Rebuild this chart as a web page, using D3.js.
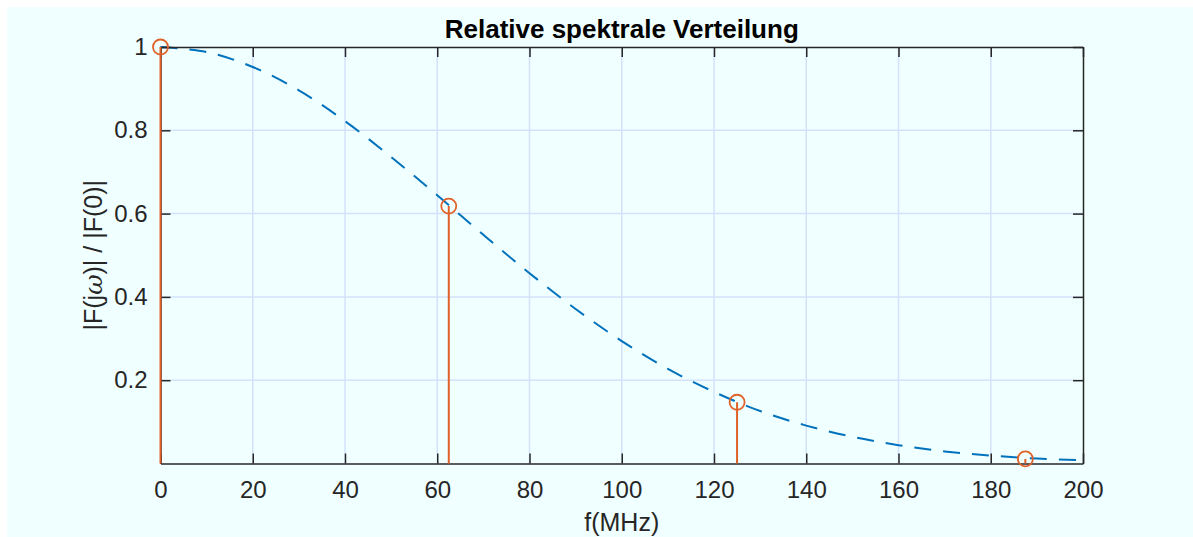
<!DOCTYPE html>
<html>
<head>
<meta charset="utf-8">
<script src="https://cdn.jsdelivr.net/npm/d3@7"></script>
<style>
  html, body { margin: 0; padding: 0; background: #ffffff; }
  svg { display: block; }
</style>
</head>
<body>
<svg id="chart" width="1193" height="537"></svg>
<script>
// ---- data ----
const curveFreq = [0, 10, 20, 30, 40, 50, 60, 70, 80, 90, 100, 110, 120, 130, 140, 150, 160, 170, 180, 190, 200];
const curveValue = [1.0, 0.988, 0.952, 0.896, 0.822, 0.736, 0.644, 0.549, 0.457, 0.371, 0.294, 0.227, 0.172, 0.126, 0.091, 0.064, 0.044, 0.029, 0.019, 0.012, 0.008];
const stemFreq = [0, 62.5, 125, 187.5];
const stemValue = [1.0, 0.618, 0.147, 0.011];
const xTicks = [0, 20, 40, 60, 80, 100, 120, 140, 160, 180, 200];
const yTicks = [0.2, 0.4, 0.6, 0.8, 1];
const titleText = "Relative spektrale Verteilung";
const xLabelText = "f(MHz)";

// ---- layout ----
const W = 1193, H = 537;
const plot = { left: 160.5, right: 1083, top: 47, bottom: 463.5 };
const axisColor = "#262626";
const gridColor = "#d3e2fa";
const stemColor = "#DF6128";
const font = "'Liberation Sans', Arial, Helvetica, sans-serif";
const tickFont = "24px";
const labelFont = "25px";

const svg = d3.select("#chart");

// figure background
svg.append("rect").attr("x", 7).attr("y", 7).attr("width", W - 7).attr("height", H - 7).attr("fill", "#F0FFFF");

const x = d3.scaleLinear().domain([0, 200]).range([plot.left, plot.right]);
const y = d3.scaleLinear().domain([0, 1]).range([plot.bottom, plot.top]);

// grid
const grid = svg.append("g");
grid.selectAll("line.gx").data(xTicks.filter(d => d > 0 && d < 200)).join("line")
  .attr("x1", d => x(d)).attr("x2", d => x(d)).attr("y1", plot.top).attr("y2", plot.bottom)
  .attr("stroke", gridColor).attr("stroke-width", 1.5);
grid.selectAll("line.gy").data(yTicks.filter(d => d < 1)).join("line")
  .attr("x1", plot.left).attr("x2", plot.right).attr("y1", d => y(d)).attr("y2", d => y(d))
  .attr("stroke", gridColor).attr("stroke-width", 1.5);

// dashed curve
const pts = curveFreq.map((f, i) => [f, curveValue[i]]);
svg.append("path").datum(pts)
  .attr("d", d3.line().x(d => x(d[0])).y(d => y(d[1])).curve(d3.curveCatmullRom))
  .attr("fill", "none").attr("stroke", "#0072BD").attr("stroke-width", 2)
  .attr("stroke-dasharray", "17,12");

// axes (box with inward ticks)
const tickLen = 10;
const fmt = d => d3.format("")(d);
const axB = svg.append("g").attr("transform", `translate(0,${plot.bottom})`)
  .call(d3.axisBottom(x).tickValues(xTicks).tickSizeInner(-tickLen).tickSizeOuter(0).tickPadding(17).tickFormat(fmt));
const axT = svg.append("g").attr("transform", `translate(0,${plot.top})`)
  .call(d3.axisTop(x).tickValues(xTicks).tickSizeInner(-tickLen).tickSizeOuter(0).tickFormat(""));
const axL = svg.append("g").attr("transform", `translate(${plot.left},0)`)
  .call(d3.axisLeft(y).tickValues(yTicks).tickSizeInner(-tickLen).tickSizeOuter(0).tickPadding(13).tickFormat(fmt));
const axR = svg.append("g").attr("transform", `translate(${plot.right},0)`)
  .call(d3.axisRight(y).tickValues(yTicks).tickSizeInner(-tickLen).tickSizeOuter(0).tickFormat(""));

[axB, axT, axL, axR].forEach(g => {
  g.select(".domain").attr("stroke", axisColor).attr("stroke-width", 1.5);
  g.selectAll(".tick line").attr("stroke", axisColor).attr("stroke-width", 1.5);
  g.selectAll(".tick text").attr("fill", axisColor).style("font-family", font).style("font-size", tickFont);
});
axB.selectAll(".tick text").attr("dy", "0.71em");

// stems (drawn over the axes, like the reference)
const stems = stemFreq.map((f, i) => ({ f, v: stemValue[i] }));
svg.selectAll("line.stem").data(stems).join("line")
  .attr("x1", d => x(d.f)).attr("x2", d => x(d.f))
  .attr("y1", y(0)).attr("y2", d => y(d.v))
  .attr("stroke", stemColor).attr("stroke-width", 2);
svg.selectAll("circle.mk").data(stems).join("circle")
  .attr("cx", d => x(d.f)).attr("cy", d => y(d.v)).attr("r", 7.5)
  .attr("fill", "none").attr("stroke", stemColor).attr("stroke-width", 1.8);

// title
svg.append("text").attr("x", (plot.left + plot.right) / 2).attr("y", 38)
  .attr("text-anchor", "middle").attr("fill", "#000")
  .style("font-family", font).style("font-size", "26px").style("font-weight", "bold")
  .text(titleText);

// x label
svg.append("text").attr("x", (plot.left + plot.right) / 2).attr("y", 531)
  .attr("text-anchor", "middle").attr("fill", axisColor)
  .style("font-family", font).style("font-size", labelFont)
  .text(xLabelText);

// y label with italic omega
const yl = svg.append("text")
  .attr("transform", `translate(102,${(plot.top + plot.bottom) / 2}) rotate(-90)`)
  .attr("text-anchor", "middle").attr("fill", axisColor)
  .style("font-family", font).style("font-size", labelFont);
yl.append("tspan").text("|F(j");
yl.append("tspan").style("font-style", "italic").style("font-family", "'DejaVu Serif', serif").text("ω");
yl.append("tspan").text(")| / |F(0)|");
</script>
</body>
</html>
